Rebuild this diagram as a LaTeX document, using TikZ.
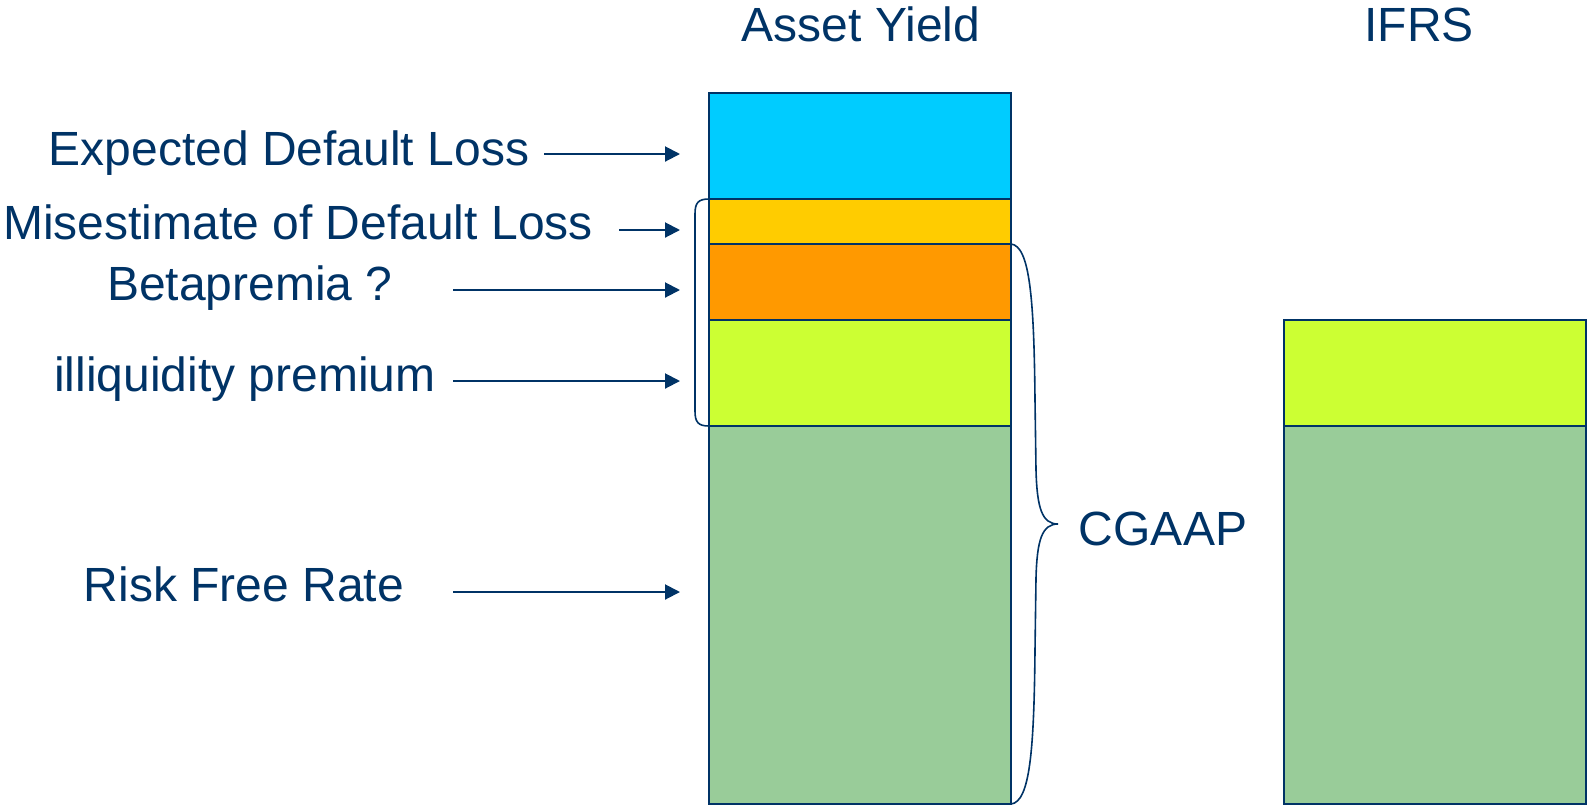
\documentclass[tikz,border=0pt]{standalone}
\usepackage{fontspec}
\setmainfont{Liberation Sans}
\usepackage{xcolor}
\usepackage{tikz}
\usetikzlibrary{arrows.meta}

\definecolor{navy}{RGB}{0,51,102}
\definecolor{lossblue}{RGB}{0,204,255}
\definecolor{misyellow}{RGB}{255,204,0}
\definecolor{betaorange}{RGB}{255,153,0}
\definecolor{illlime}{RGB}{204,255,51}
\definecolor{rfgreen}{RGB}{153,204,153}

\tikzset{
    seg/.style={draw=navy, line width=1.5pt, inner sep=0pt, outer sep=0pt,
        minimum width=302pt, anchor=north west},
    lbl/.style={text=navy, inner sep=0pt, anchor=base, font=\fontsize{48}{57}\selectfont},
    pointer/.style={draw=navy, line width=2pt, -{Triangle[length=15pt,width=15pt]}},
    bracket/.style={draw=navy, line width=1.6pt}
}

\begin{document}
\begin{tikzpicture}[x=1pt, y=-1pt]
    \useasboundingbox (0,0) rectangle (1589,807);

    % asset yield column
    \node[seg, fill=lossblue, minimum height=106pt] at (709,93) (edl) {};
    \node[seg, fill=misyellow, minimum height=45pt] at (709,199) (mis) {};
    \node[seg, fill=betaorange, minimum height=76pt] at (709,244) (beta) {};
    \node[seg, fill=illlime, minimum height=106pt] at (709,320) (ill) {};
    \node[seg, fill=rfgreen, minimum height=378pt] at (709,426) (rfr) {};

    % ifrs column
    \node[seg, fill=illlime, minimum height=106pt] at (1284,320) (ifrsill) {};
    \node[seg, fill=rfgreen, minimum height=378pt] at (1284,426) (ifrsrfr) {};

    % headings
    \node[lbl] at (861,41) (assetyield) {Asset Yield};
    \node[lbl] at (1419,41) (ifrs) {IFRS};

    % labels
    \node[lbl] at (289,165) (edllbl) {Expected Default Loss};
    \node[lbl] at (298,239) (mislbl) {Misestimate of Default Loss};
    \node[lbl] at (250,300) (betalbl) {Betapremia ?};
    \node[lbl] at (245,391) (illlbl) {illiquidity premium};
    \node[lbl] at (244,601) (rfrlbl) {Risk Free Rate};
    \node[lbl] at (1163,545) (cgaap) {CGAAP};

    % arrows
    \coordinate (edlfrom) at (544,154);
    \coordinate (edlto) at (680,154);
    \coordinate (misfrom) at (619,230);
    \coordinate (misto) at (680,230);
    \coordinate (betafrom) at (453,290);
    \coordinate (betato) at (680,290);
    \coordinate (illfrom) at (453,381);
    \coordinate (illto) at (680,381);
    \coordinate (rfrfrom) at (453,592);
    \coordinate (rfrto) at (680,592);

    \draw[pointer] (edlfrom) -- (edlto);
    \draw[pointer] (misfrom) -- (misto);
    \draw[pointer] (betafrom) -- (betato);
    \draw[pointer] (illfrom) -- (illto);
    \draw[pointer] (rfrfrom) -- (rfrto);

    % left bracket
    \draw[bracket] (mis.north west) .. controls (698,199) and (695,203) .. (695,214)
        -- (695,411) .. controls (695,422) and (698,426) .. (ill.south west);

    % cgaap brace
    \coordinate (bracetip) at (1058,524);
    \draw[bracket] (beta.north east) .. controls (1030,246) and (1034,300) .. (1035,400)
        -- (1036,470) .. controls (1037,508) and (1042,524) .. (bracetip)
        .. controls (1042,524) and (1037,540) .. (1036,578)
        -- (1035,650) .. controls (1034,750) and (1030,802) .. (rfr.south east);
\end{tikzpicture}
\end{document}
